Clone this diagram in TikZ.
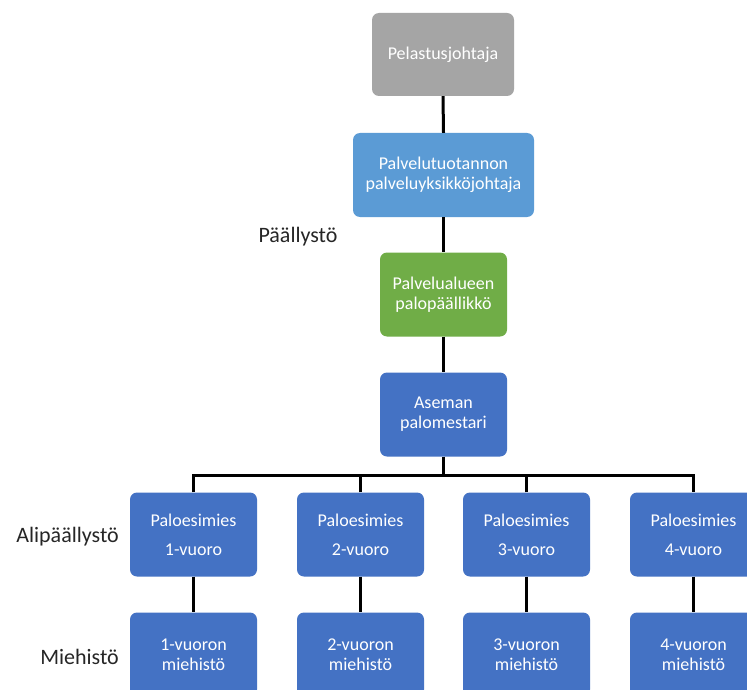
\documentclass[tikz,border=0pt]{standalone}
\usepackage{fontspec}
\setmainfont{Carlito}
\definecolor{cgray}{HTML}{A5A5A5}
\definecolor{clblue}{HTML}{5B9BD5}
\definecolor{cgreen}{HTML}{70AD47}
\definecolor{cblue}{HTML}{4472C4}
\tikzset{
  orgbox/.style={rounded corners=7pt, text=white, align=center, inner sep=0pt,
    font=\fontsize{18}{20}\selectfont},
  wide/.style={minimum width=127pt, minimum height=84pt},
  conn/.style={line width=3pt, black},
  lbl/.style={font=\fontsize{22}{24}\selectfont, text=black!85, inner sep=0pt}
}
\begin{document}
\begin{tikzpicture}[x=1pt,y=-1pt]
\useasboundingbox (0,0) rectangle (747,690);
\clip (0,0) rectangle (747,690);
\fill[white] (0,0) rectangle (747,690);
% top chain
\node[orgbox, fill=cgray, minimum width=142pt, minimum height=83pt] (pj) at (443,54.5) {Pelastusjohtaja};
\node[orgbox, fill=clblue, minimum width=181pt, minimum height=84pt] (pyj) at (443.5,175) {Palvelutuotannon\\palveluyksikköjohtaja};
\node[orgbox, fill=cgreen, wide] (ppl) at (443.5,294.5) {Palvelualueen\\palopäällikkö};
\node[orgbox, fill=cblue, wide] (apm) at (443.5,414.5) {Aseman\\palomestari};
\coordinate (bus) at (443.5,475);
% paloesimies
\foreach \i/\x in {1/193.5,2/360.5,3/526.5,4/693.5}{
  \node[orgbox, fill=cblue, wide, font=\fontsize{18}{29}\selectfont] (pe\i) at (\x,534.5) {Paloesimies\\\i-vuoro};
  \node[orgbox, fill=cblue, wide] (mh\i) at (\x,654.5) {\i-vuoron\\miehistö};
}
% connectors
\draw[conn] (pj.south) -- (pyj.north);
\draw[conn] (pyj.south) -- (ppl.north);
\draw[conn] (ppl.south) -- (apm.north);
\draw[conn] (apm.south) -- (bus);
\draw[conn] (pe1.north) |- (bus) -| (pe4.north);
\draw[conn] (pe2.north) |- (bus);
\draw[conn] (pe3.north) |- (bus);
\foreach \i in {1,2,3,4}{
  \draw[conn] (pe\i.south) -- (mh\i.north);
}
% labels
\node[lbl] (lp) at (298,237) {Päällystö};
\node[lbl, anchor=east] (la) at (119,537) {Alipäällystö};
\node[lbl, anchor=east] (lm) at (119,657) {Miehistö};
\end{tikzpicture}
\end{document}
